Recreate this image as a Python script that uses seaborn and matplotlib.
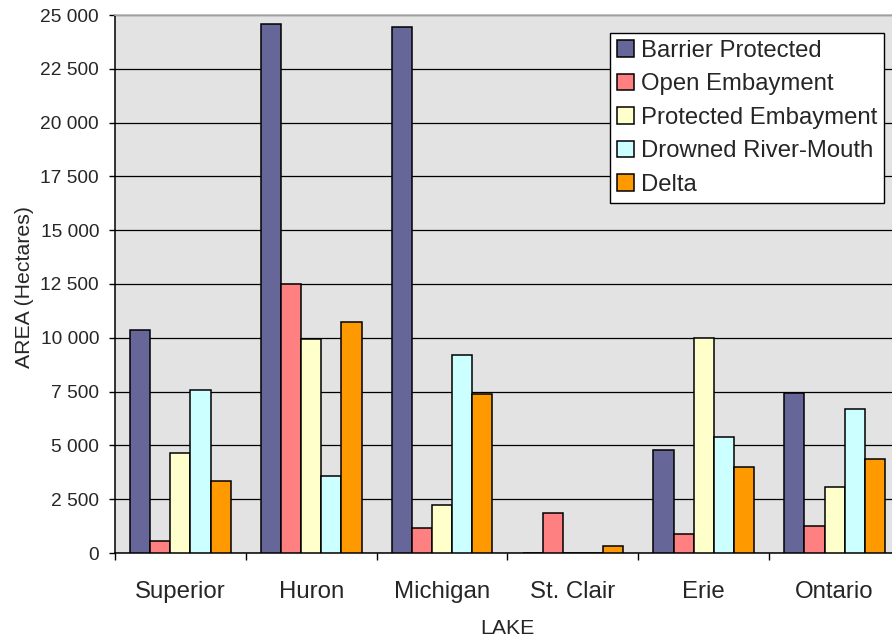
import matplotlib
matplotlib.use("Agg")
import matplotlib.pyplot as plt
import matplotlib.ticker as mticker
import seaborn as sns
import pandas as pd

lakes = ["Superior", "Huron", "Michigan", "St. Clair", "Erie", "Ontario"]
types = ["Barrier Protected", "Open Embayment", "Protected Embayment",
         "Drowned River-Mouth", "Delta"]
barrier_protected = [10370, 24600, 24460, 0, 4780, 7450]
open_embayment = [570, 12520, 1160, 1840, 880, 1270]
protected_embayment = [4660, 9960, 2210, 0, 10000, 3060]
drowned_river_mouth = [7560, 3600, 9190, 0, 5400, 6680]
delta = [3345, 10720, 7410, 340, 3990, 4390]
colors = ["#666699", "#FF8080", "#FFFFCC", "#CCFFFF", "#FF9900"]

series = [barrier_protected, open_embayment, protected_embayment,
          drowned_river_mouth, delta]
rows = []
for t, vals in zip(types, series):
    for lake, v in zip(lakes, vals):
        rows.append({"LAKE": lake, "AREA": v, "Type": t})
df = pd.DataFrame(rows)

sns.set_theme(style="white")
plt.rcParams["font.family"] = ["Liberation Sans", "DejaVu Sans"]

fig = plt.figure(figsize=(8.92, 6.4), dpi=100)
W, H = 892, 640
left, right, top, bottom = 115, 900, 15, 553
ax = fig.add_axes([left / W, (H - bottom) / H, (right - left) / W, (bottom - top) / H])
ax.set_facecolor("#E3E3E3")

sns.barplot(data=df, x="LAKE", y="AREA", hue="Type", order=lakes, hue_order=types,
            palette=colors, saturation=1, edgecolor="black", linewidth=1.1,
            width=0.77, errorbar=None, ax=ax, zorder=3)

ax.set_xlim(-0.5, 5.5)
ax.set_ylim(0, 25000)
ax.yaxis.set_major_locator(mticker.MultipleLocator(2500))
ax.yaxis.set_major_formatter(mticker.FuncFormatter(lambda v, p: f"{v:,.0f}".replace(",", " ")))
ax.grid(axis="y", color="black", linewidth=0.9, zorder=0)
ax.set_axisbelow(True)

ax.set_xticks([i - 0.5 for i in range(len(lakes) + 1)])
ax.set_xticklabels([])
ax.set_xticks(range(len(lakes)), minor=True)
ax.set_xticklabels(lakes, minor=True, fontsize=17.3)
ax.tick_params(axis="x", which="major", direction="out", length=5, width=1, color="black", bottom=True)
ax.tick_params(axis="x", which="minor", length=0, pad=20)
ax.tick_params(axis="y", direction="out", length=4.5, width=1, color="black", left=True,
               labelsize=13.8, pad=7)

for s in ["left", "bottom"]:
    ax.spines[s].set_color("black")
    ax.spines[s].set_linewidth(1.1)
ax.spines["top"].set_color("#B8B8B8")
ax.spines["right"].set_color("#B8B8B8")

ax.set_xlabel("LAKE", fontsize=15.3)
ax.xaxis.set_label_coords(0.5, -0.122)
ax.set_ylabel("AREA (Hectares)", fontsize=15.3)
ax.yaxis.set_label_coords(-0.103, 0.4935)

leg = ax.legend(loc="upper right", bbox_to_anchor=(0.98, 0.967), borderaxespad=0,
                fontsize=17.2, frameon=True, fancybox=False, framealpha=1,
                edgecolor="black", facecolor="white", handlelength=0.7,
                handleheight=0.7, handletextpad=0.3, labelspacing=0.48,
                borderpad=0.3, title=None)
leg.get_frame().set_linewidth(1.0)

fig.savefig("out.png", dpi=100)
